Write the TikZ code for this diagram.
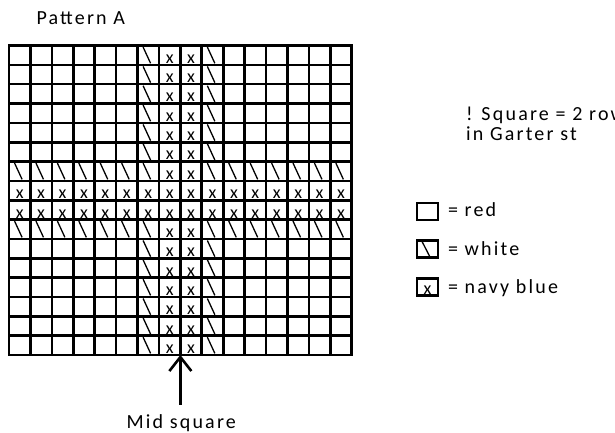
\documentclass[tikz,border=0pt]{standalone}
\usepackage{fontspec}
\setmainfont{Carlito}[LetterSpace=11]
\newfontfamily\cellfont{Carlito}
\usetikzlibrary{arrows.meta,calc}
\begin{document}
\begin{tikzpicture}[x=1pt,y=-1pt,
  every node/.style={inner sep=0pt,outer sep=0pt,font=\fontsize{20}{22}\selectfont},
  gridline/.style={line width=2.6pt,black},
  slashline/.style={line width=1.3pt,black},
  cellx/.style={anchor=base,font=\cellfont\fontsize{18}{20}\selectfont},
  legbox/.style={draw,line width=2.4pt,minimum width=21pt,minimum height=17pt},
  label/.style={anchor=base west},
  arrowline/.style={line width=2.6pt,-{Straight Barb[length=14pt,width=22pt,line width=2.6pt]}}]
\useasboundingbox[fill=white] (0,0) rectangle (615,432);

\node[label] (title) at (36.5,24) {Pattern A};

% grid
\begin{scope}[shift={(9,45.5)},x=21.42pt,y=-19.34pt]
  \foreach \i in {0,...,16}{
    \draw[gridline] (\i,0) -- (\i,16);
    \draw[gridline] (0,\i) -- (16,\i);
  }
  \draw[gridline,line join=miter] (0,0) rectangle (16,16);
  \foreach \r in {1,...,16}{
    \foreach \c in {1,...,16}{
      \pgfmathtruncatemacro{\t}{(\r==8 || \r==9 || \c==8 || \c==9) ? 2 : ((\r==7 || \r==10 || \c==7 || \c==10) ? 1 : 0)}
      \ifnum\t=2 \node[cellx] (x-\r-\c) at (\c-0.5,\r-0.08) {x};\fi
      \ifnum\t=1 \draw[slashline] (\c-1+0.26,\r-1+0.08) -- (\c-1+0.61,\r-0.08);\fi
    }
  }
  \coordinate (midtop) at (8,16);
\end{scope}

% arrow and label
\coordinate (midtail) at ($(midtop)+(0,50)$);
\draw[arrowline] (midtail) -- (midtop);
\node[label] (midlabel) at (126.5,428.3) {Mid square};

% note
\node[label] (note1) at (466,120.7) {! Square = 2 rows};
\node[label] (note2) at (466,140) {in Garter st};

% legend
\node[legbox] (lred) at (427.5,211.2) {};
\node[legbox] (lwhite) at (427.5,249) {};
\node[legbox] (lnavy) at (427.5,287) {};
\draw[slashline] (421.8,241) -- (430,257);
\node[cellx] (lnavyx) at (427.5,294.5) {x};
\node[label] (tred) at (448,216.5) {= red};
\node[label] (twhite) at (448,255.5) {= white};
\node[label] (tnavy) at (448,293.8) {= navy blue};
\end{tikzpicture}
\end{document}
